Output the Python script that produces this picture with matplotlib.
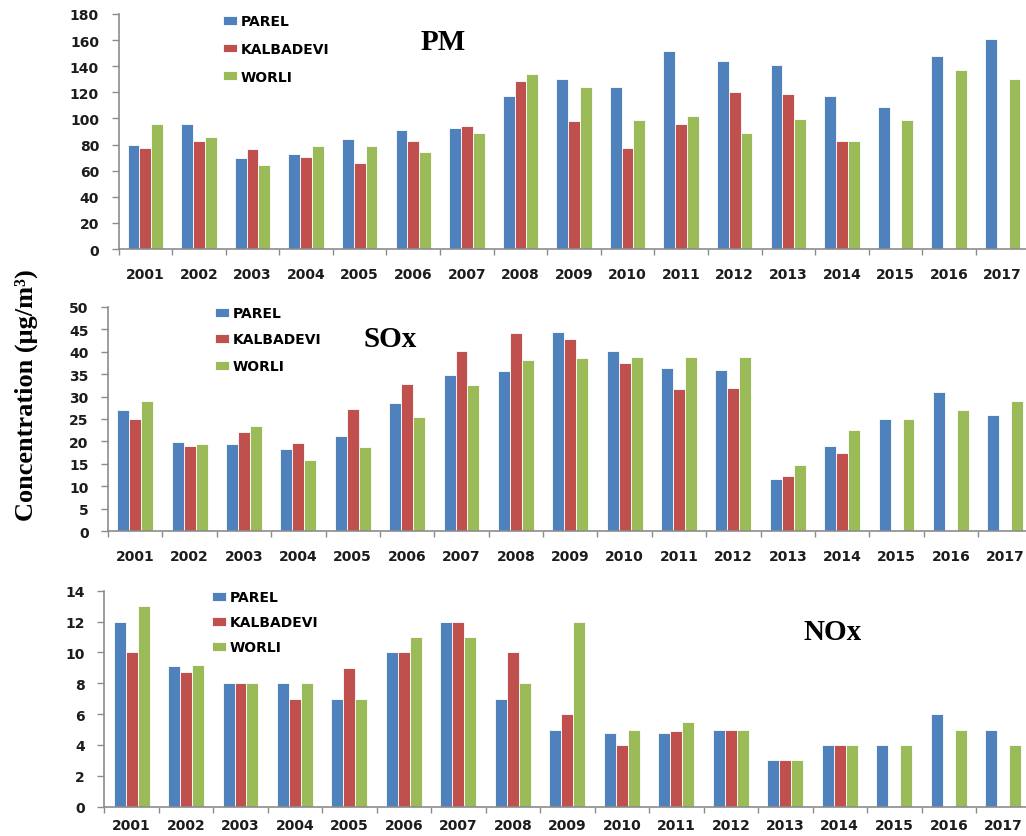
import numpy as np
import matplotlib
matplotlib.use('Agg')
import matplotlib.pyplot as plt

nan = np.nan

years = [str(y) for y in range(2001, 2018)]
stations = ['PAREL', 'KALBADEVI', 'WORLI']
colours = ['#4F81BD', '#C0504D', '#9BBB59']

# annual mean concentrations, ug/m3
pm_parel = [80, 96, 69.5, 73, 84, 91, 93, 117, 130, 124, 152, 144, 141, 117, 109, 148, 161]
pm_kalbadevi = [77, 82.5, 76.5, 70.5, 66, 82.5, 94.5, 129, 98, 77, 96, 120, 118.5, 83, nan, nan, nan]
pm_worli = [96, 86, 64.5, 79, 79, 74.5, 89, 134, 124, 98.5, 101.5, 88.5, 99.5, 83, 98.5, 137, 130]

sox_parel = [27, 19.8, 19.4, 18.3, 21.2, 28.5, 34.7, 35.7, 44.4, 40.1, 36.4, 35.9, 11.6, 19.1, 25.1, 30.9, 26]
sox_kalbadevi = [25.1, 19.1, 22, 19.6, 27.2, 32.7, 40.2, 44.1, 42.7, 37.4, 31.6, 31.9, 12.3, 17.4, nan, nan, nan]
sox_worli = [28.9, 19.4, 23.4, 15.9, 18.8, 25.4, 32.5, 38.1, 38.6, 38.8, 38.8, 38.8, 14.8, 22.5, 25.1, 27, 28.9]

nox_parel = [12, 9.1, 8, 8, 7, 10, 12, 7, 5, 4.8, 4.8, 5, 3, 4, 4, 6, 5]
nox_kalbadevi = [10, 8.7, 8, 7, 9, 10, 12, 10, 6, 4, 4.9, 5, 3, 4, nan, nan, nan]
nox_worli = [13, 9.2, 8, 8, 7, 11, 11, 8, 12, 5, 5.5, 5, 3, 4, 4, 5, 4]

W, H = 1026, 837
fig = plt.figure(figsize=(W / 100, H / 100), dpi=100)

SANS = 'DejaVu Sans'
SERIF = 'Liberation Serif'
AXIS_GREY = '#8c8c8c'


def add_panel(box, series, ymax, ystep, name, name_xy, legend_xy, labelspacing, xpad):
    left, top, right, bottom = box
    ax = fig.add_axes([left / W, 1 - bottom / H, (right - left) / W, (bottom - top) / H])
    x = np.arange(len(years)) + 0.5
    width = 0.22
    for i, (vals, label) in enumerate(zip(series, stations)):
        ax.bar(x + (i - 1) * width, np.array(vals, dtype=float), width,
               color=colours[i], edgecolor='white', linewidth=0.6, label=label)

    ax.set_xlim(0, len(years))
    ax.set_ylim(0, ymax)
    ax.set_yticks(np.arange(0, ymax + 0.1, ystep))
    ax.set_yticklabels([f'{v:g}' for v in np.arange(0, ymax + 0.1, ystep)])

    # year labels sit between the boundary ticks
    ax.set_xticks(np.arange(len(years) + 1))
    ax.set_xticklabels([])
    ax.set_xticks(x, minor=True)
    ax.set_xticklabels(years, minor=True)
    ax.tick_params(axis='x', which='major', direction='out', length=4, width=1, color=AXIS_GREY)
    ax.tick_params(axis='x', which='minor', length=0, pad=xpad)
    ax.tick_params(axis='y', direction='out', length=5, width=1, color=AXIS_GREY, pad=9)

    for tl in ax.get_xticklabels(minor=True) + ax.get_yticklabels():
        tl.set_fontfamily(SANS)
        tl.set_fontweight('bold')
        tl.set_fontsize(10)
        tl.set_color('#1c1c1c')

    for s in ['top', 'right']:
        ax.spines[s].set_visible(False)
    for s in ['left', 'bottom']:
        ax.spines[s].set_color(AXIS_GREY)
        ax.spines[s].set_linewidth(1.2)

    ax.legend(loc='upper left', bbox_to_anchor=(legend_xy[0] / W, 1 - legend_xy[1] / H),
              bbox_transform=fig.transFigure, frameon=False, borderpad=0, borderaxespad=0,
              handlelength=1.0, handleheight=0.6, handletextpad=0.3,
              labelspacing=labelspacing, prop={'family': SANS, 'weight': 'bold', 'size': 10})

    fig.text(name_xy[0] / W, 1 - name_xy[1] / H, name, ha='center', va='center',
             family=SERIF, fontweight='bold', fontsize=21)
    return ax


add_panel((118.5, 15, 1029.5, 250), [pm_parel, pm_kalbadevi, pm_worli], 180, 20,
          'PM', (443, 42), (223, 15), 1.0, 13)
add_panel((108, 307.7, 1032.5, 532.3), [sox_parel, sox_kalbadevi, sox_worli], 50, 5,
          'SOx', (390, 340), (215, 307), 0.9, 13)
add_panel((104.3, 591.7, 1030.5, 807.7), [nox_parel, nox_kalbadevi, nox_worli], 14, 2,
          'NOx', (833, 633), (212, 591), 0.8, 8)

fig.text(26 / W, 1 - 395 / H, 'Concentration (\u03bcg/m\u00b3)', rotation=90,
         ha='center', va='center', family=SERIF, fontweight='bold', fontsize=19)

fig.savefig('out.png', dpi=100)
